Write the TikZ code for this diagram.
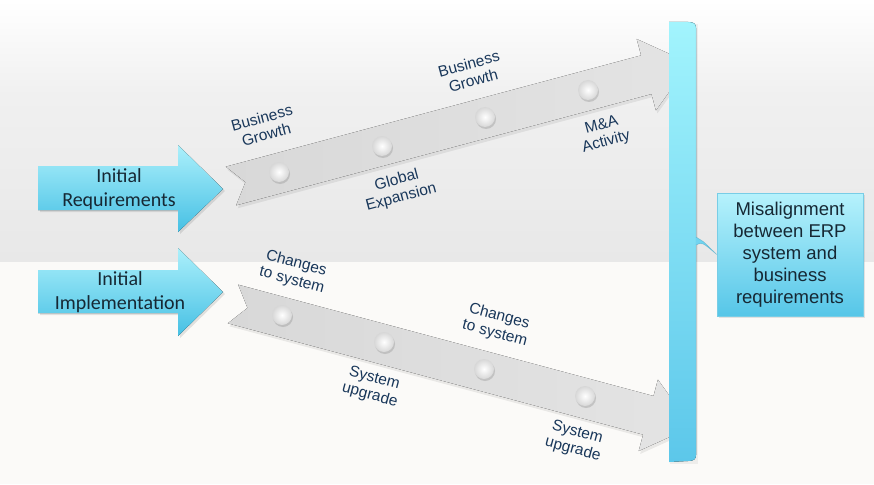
\documentclass[tikz,border=0pt]{standalone}
\usepackage{fontspec}
\usepackage{graphicx}
\setmainfont{Liberation Sans}
\newfontfamily\calibfont{Carlito}
\usetikzlibrary{shadows,calc}

\definecolor{txtnavy}{RGB}{25,55,90}
\definecolor{txtdark}{RGB}{22,40,52}
\definecolor{arrtop}{RGB}{172,240,251}
\definecolor{arrbot}{RGB}{70,192,228}
\definecolor{bartop}{RGB}{162,244,253}
\definecolor{barbot}{RGB}{92,199,234}
\definecolor{boxtop}{RGB}{182,242,252}
\definecolor{boxbot}{RGB}{86,198,232}
\definecolor{boxedge}{RGB}{120,205,230}
\definecolor{bandL}{RGB}{216,216,216}
\definecolor{bandR}{RGB}{228,228,228}
\definecolor{bgbottom}{RGB}{251,250,248}
\definecolor{bgmid}{RGB}{240,240,240}
\definecolor{bgdeep}{RGB}{232,232,232}
\definecolor{dotrim}{RGB}{215,215,215}

\tikzset{
  lbl/.style={font=\fontsize{15.5}{17.5}\selectfont, text=txtnavy, align=center, inner sep=0pt},
  bigarrow/.style={top color=arrtop, bottom color=arrbot},
  band/.style={left color=bandL, right color=bandR},
  bandshadow/.style={fill=black, opacity=0.07},
  dotnode/.style={circle, minimum size=20pt, inner sep=0pt, shading=radial,
    inner color=white, outer color=dotrim,
    drop shadow={shadow xshift=1pt, shadow yshift=-2pt, opacity=0.3}},
  arrowtext/.style={font=\calibfont\fontsize{20}{24}\selectfont, text=txtdark, align=center, inner sep=0pt},
  misbox/.style={draw=boxedge, line width=0.6pt, top color=boxtop, bottom color=boxbot,
    minimum width=146pt, minimum height=123pt, inner sep=0pt, align=center,
    font=\fontsize{18.5}{22}\selectfont, text=txtdark,
    drop shadow={shadow xshift=1.5pt, shadow yshift=-1.5pt, opacity=0.2}}
}

\begin{document}
\begin{tikzpicture}[x=1pt,y=-1pt]
\useasboundingbox (0,0) rectangle (874,484);

% background
\fill[top color=white, bottom color=bgmid] (0,0) rectangle (874,95);
\fill[top color=bgmid, bottom color=bgdeep] (0,95) rectangle (874,262);
\fill[bgbottom] (0,262) rectangle (874,484);

% shadows of timeline bands
\begin{scope}[shift={(1.5,3)}]
\fill[bandshadow] (225.8,166.7) -- (641.1,55.4) -- (636.7,39.0) -- (689.8,63.1) -- (655.9,110.4) -- (651.5,94.0) -- (236.2,205.3) -- (245.5,182.1) -- cycle;
\fill[bandshadow] (238.2,284.7) -- (653.5,396.0) -- (657.9,379.6) -- (691.8,426.9) -- (638.7,451.0) -- (643.1,434.6) -- (227.8,323.3) -- (247.5,307.9) -- cycle;
\end{scope}

% timeline bands
\fill[band] (225.8,166.7) -- (641.1,55.4) -- (636.7,39.0) -- (689.8,63.1) -- (655.9,110.4) -- (651.5,94.0) -- (236.2,205.3) -- (245.5,182.1) -- cycle;
\fill[band] (238.2,284.7) -- (653.5,396.0) -- (657.9,379.6) -- (691.8,426.9) -- (638.7,451.0) -- (643.1,434.6) -- (227.8,323.3) -- (247.5,307.9) -- cycle;

% dots
\node[dotnode] (u1) at (279,172) {};
\node[dotnode] (u2) at (382,146) {};
\node[dotnode] (u3) at (485,117) {};
\node[dotnode] (u4) at (588,90) {};
\node[dotnode] (d1) at (282,315) {};
\node[dotnode] (d2) at (384,342) {};
\node[dotnode] (d3) at (484,369) {};
\node[dotnode] (d4) at (585,396) {};

% labels upper
\node[lbl, rotate=15] (lu1) at (264,126) {Business\\Growth};
\node[lbl, rotate=15] (lu2) at (399,189) {Global\\Expansion};
\node[lbl, rotate=15] (lu3) at (471,72) {Business\\Growth};
\node[lbl, rotate=15] (lu4) at (604,134) {M\&A\\Activity};
% labels lower
\node[lbl, rotate=-15] (ld1) at (294,272) {Changes\\to system};
\node[lbl, rotate=-15] (ld2) at (372,387) {System\\upgrade};
\node[lbl, rotate=-15] (ld3) at (497,325) {Changes\\to system};
\node[lbl, rotate=-15] (ld4) at (575,441) {System\\upgrade};

% left blue arrows
\fill[black, opacity=0.1] (40,168) -- (180,168) -- (180,147) -- (225,191) -- (180,234) -- (180,212) -- (40,212) -- cycle;
\fill[bigarrow] (38,166) -- (178,166) -- (178,145) -- (223,189) -- (178,232) -- (178,210) -- (38,210) -- cycle;
\fill[black, opacity=0.1] (40,272) -- (180,272) -- (180,250) -- (225,294) -- (180,338) -- (180,315) -- (40,315) -- cycle;
\fill[bigarrow] (38,270) -- (178,270) -- (178,248) -- (223,292) -- (178,336) -- (178,313) -- (38,313) -- cycle;
\node[arrowtext] (ireq) at (119,189) {Initial\\Requirements};
\node[arrowtext] (iimp) at (120,292) {Initial\\Implementation};

% right bar
\fill[black, opacity=0.05] (670,24) -- (697.5,24) -- (697.5,464) -- (670,464) -- cycle;
\fill[top color=bartop, bottom color=barbot] (669,22) -- (688,22) .. controls (694,22) and (696,24) .. (696,28)
  -- (696,455) .. controls (696,459) and (694,461) .. (688,461) -- (669,462) -- cycle;
\draw[barbot!80!black, opacity=0.3, line width=0.5pt] (688,22) .. controls (694,22) and (696,24) .. (696,28) -- (696,455);
\coordinate (barpt) at (696,241);

% box
\node[misbox] (mis) at (790,254.5) {Misalignment\\between ERP\\system and\\business\\requirements};

% connector from bar to box
\fill[barbot!70!bartop] ($(barpt)+(0,-4)$) .. controls ($(barpt)+(6,-1)$) .. (mis.west)
  .. controls ($(barpt)+(6,1)$) .. ($(barpt)+(0,4)$) -- cycle;
\draw[barbot!80!black, opacity=0.5, line width=0.5pt] ($(barpt)+(0,-4)$) .. controls ($(barpt)+(6,-1)$) .. (mis.west)
  .. controls ($(barpt)+(6,1)$) .. ($(barpt)+(0,4)$);
\end{tikzpicture}
\end{document}
